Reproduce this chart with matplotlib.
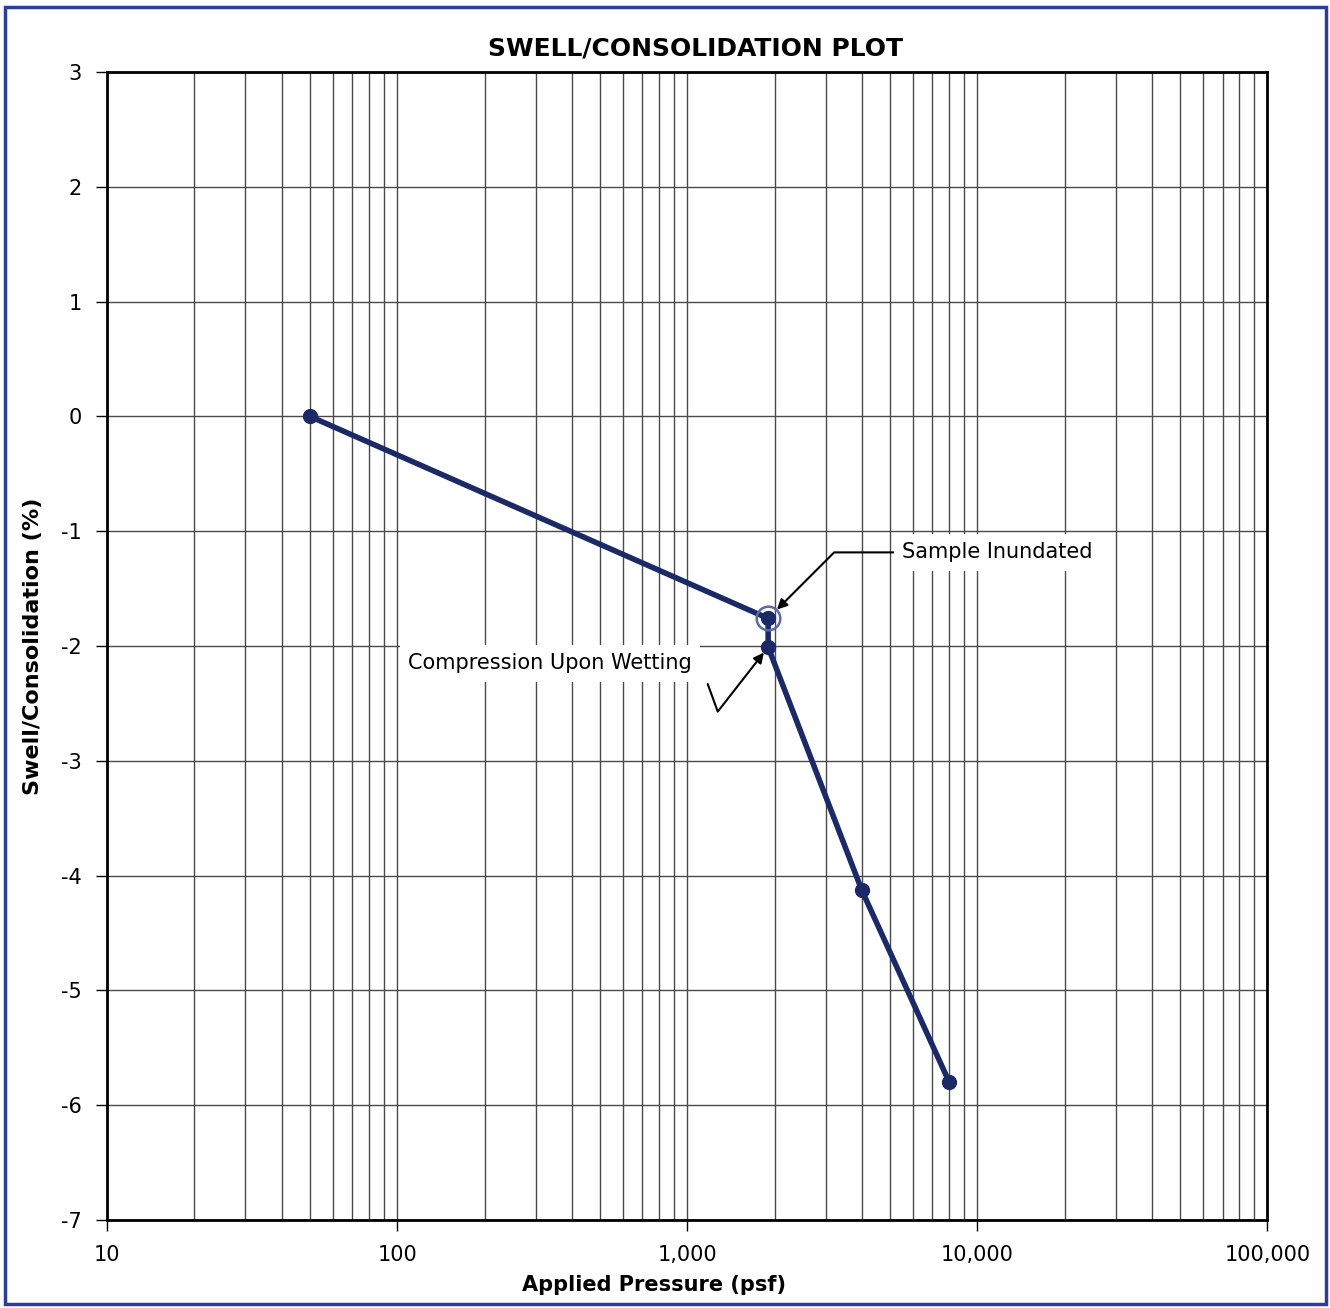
import matplotlib.pyplot as plt
from matplotlib.patches import Rectangle
from matplotlib.ticker import FixedLocator, FuncFormatter, LogLocator, NullFormatter

plt.rcParams["axes.unicode_minus"] = False

# readings (pressure in psf, swell/consolidation in %)
pressure = [50, 1900, 1900, 4000, 8000]
strain = [0.0, -1.76, -2.01, -4.13, -5.80]
inundated_idx = 1
wetting_idx = 2

x_ticks = [10, 100, 1000, 10000, 100000]
y_ticks = [3, 2, 1, 0, -1, -2, -3, -4, -5, -6, -7]

navy = "#1b2a66"
grid_col = "#4a4a4a"

fig = plt.figure(figsize=(13.3, 13.08), dpi=100)
ax = fig.add_axes([0.0805, 0.0673, 0.8725, 0.8777])

# blue frame around the whole chart
fig.patches.append(Rectangle((0.004, 0.003), 0.993, 0.992, transform=fig.transFigure,
                             fill=False, edgecolor="#2b3f96", linewidth=2.5))

ax.set_xscale("log")
ax.set_xlim(10, 100000)
ax.set_ylim(-7, 3)

ax.xaxis.set_major_locator(FixedLocator(x_ticks))
ax.xaxis.set_major_formatter(FuncFormatter(lambda v, p: f"{int(round(v)):,}"))
ax.xaxis.set_minor_locator(LogLocator(base=10, subs=range(2, 10)))
ax.xaxis.set_minor_formatter(NullFormatter())
ax.yaxis.set_major_locator(FixedLocator(y_ticks))

ax.grid(which="major", color=grid_col, linewidth=1.0)
ax.grid(which="minor", axis="x", color=grid_col, linewidth=1.0)
ax.set_axisbelow(True)

for s in ax.spines.values():
    s.set_linewidth(2)
    s.set_color("black")

ax.tick_params(axis="both", which="major", direction="out", length=8, width=1,
               labelsize=15, pad=10)
ax.tick_params(axis="x", which="minor", length=0)

ax.plot(pressure, strain, color=navy, linewidth=4, marker="o", markersize=10,
        markerfacecolor=navy, markeredgecolor=navy, zorder=5)
ax.plot(pressure[inundated_idx], strain[inundated_idx], marker="o", markersize=17,
        markerfacecolor="none", markeredgecolor="#5a6aa8", markeredgewidth=1.8, zorder=6)

box = dict(facecolor="white", edgecolor="none", pad=6)

ax.annotate("Sample Inundated", xy=(pressure[inundated_idx], strain[inundated_idx]),
            xytext=(5510, -1.185), ha="left", va="center", fontsize=15, bbox=box,
            arrowprops=dict(arrowstyle="-|>", color="black", lw=1.5, mutation_scale=15,
                            shrinkA=0, shrinkB=9,
                            connectionstyle="angle,angleA=0,angleB=45,rad=0"),
            zorder=7)

ax.text(109, -2.15, "Compression Upon Wetting", ha="left", va="center", fontsize=15,
        bbox=box, zorder=4)
ax.annotate("", xy=(pressure[wetting_idx], strain[wetting_idx]),
            xytext=(-43.5, -26.6), textcoords="offset points",
            arrowprops=dict(arrowstyle="-|>", color="black", lw=1.5, mutation_scale=15,
                            shrinkA=0, shrinkB=5,
                            connectionstyle="angle,angleA=-70,angleB=52,rad=0"),
            zorder=7)

ax.set_title("SWELL/CONSOLIDATION PLOT", fontsize=18, fontweight="bold", pad=12, x=0.507)
ax.set_xlabel("Applied Pressure (psf)", fontsize=15, fontweight="bold")
ax.xaxis.set_label_coords(0.471, -0.048)
ax.set_ylabel("Swell/Consolidation (%)", fontsize=16, fontweight="bold")
ax.yaxis.set_label_coords(-0.055, 0.5)

fig.savefig("out.png", dpi=100)
